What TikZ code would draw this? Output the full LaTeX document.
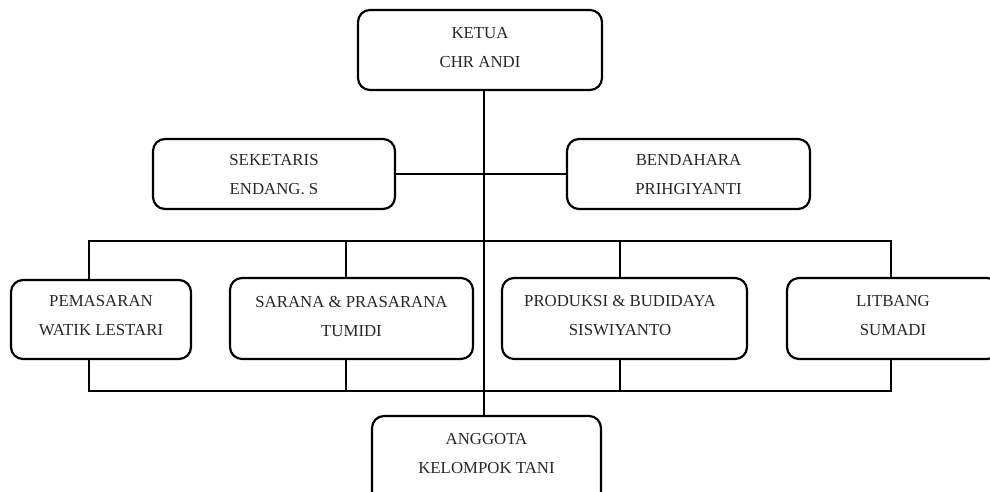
\documentclass[tikz,border=0pt]{standalone}
\usepackage{fontspec}
\setmainfont{Liberation Serif}
\begin{document}
\begin{tikzpicture}[x=1pt,y=-1pt,
  box/.style={draw, line width=2.2pt, rounded corners=12pt, inner sep=0pt},
  txt/.style={align=center, font=\fontsize{16.8}{29}\selectfont, inner sep=0pt, text=black!85},
  conn/.style={line width=2.2pt}]
\useasboundingbox (0,0) rectangle (990,491);
\clip (0,0) rectangle (990,491);
% boxes
\node[box, minimum width=244pt, minimum height=80pt] (ketua) at (480,50) {};
\node[txt] (ketuat) at (480,47.5) {KETUA\\CHR ANDI};
\node[box, minimum width=242pt, minimum height=70pt] (sek) at (274,174) {};
\node[txt] (sekt) at (274,175) {SEKETARIS\\ENDANG. S};
\node[box, minimum width=243pt, minimum height=70pt] (ben) at (688.5,174) {};
\node[txt] (bent) at (688.5,175) {BENDAHARA\\PRIHGIYANTI};
\node[box, minimum width=180pt, minimum height=79pt] (pem) at (101,319.5) {};
\node[txt] (pemt) at (101,316) {PEMASARAN\\WATIK LESTARI};
\node[box, minimum width=243pt, minimum height=81pt] (sar) at (351.5,318.5) {};
\node[txt] (sart) at (351.5,316) {SARANA \& PRASARANA\\TUMIDI};
\node[box, minimum width=245pt, minimum height=81pt] (pro) at (624.5,318.5) {};
\node[txt] (prot) at (620,316) {PRODUKSI \& BUDIDAYA\\SISWIYANTO};
\node[box, minimum width=212pt, minimum height=81pt] (lit) at (893,318.5) {};
\node[txt] (litt) at (893,316) {LITBANG\\SUMADI};
\node[box, minimum width=229pt, minimum height=90pt] (ang) at (486.5,461) {};
\node[txt] (angt) at (486.5,453.5) {ANGGOTA\\KELOMPOK TANI};
% coordinates
\coordinate (trunk) at (484,0);
\coordinate (xa) at (89,0);
\coordinate (xb) at (346,0);
\coordinate (xc) at (620,0);
\coordinate (xd) at (891,0);
\coordinate (top) at (0,241);
\coordinate (bot) at (0,391);
% connectors
\draw[conn] (ketua.south -| trunk) -- (ang.north -| trunk);
\draw[conn] (sek.east) -- (ben.west);
\draw[conn] (pem.north -| xa) -- (top -| xa) -- (top -| xd) -- (lit.north -| xd);
\draw[conn] (top -| xb) -- (sar.north -| xb);
\draw[conn] (top -| xc) -- (pro.north -| xc);
\draw[conn] (pem.south -| xa) -- (bot -| xa) -- (bot -| xd) -- (lit.south -| xd);
\draw[conn] (bot -| xb) -- (sar.south -| xb);
\draw[conn] (bot -| xc) -- (pro.south -| xc);
\end{tikzpicture}
\end{document}
